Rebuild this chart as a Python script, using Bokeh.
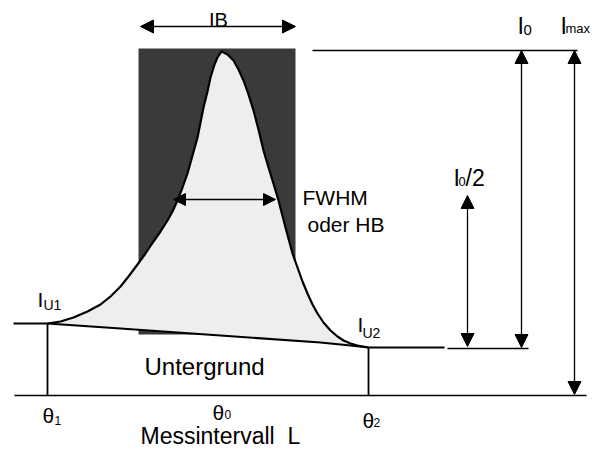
from bokeh.plotting import figure
from bokeh.models import Range1d, Arrow, NormalHead
from bokeh.core.properties import value
from bokeh.embed import file_html
from bokeh.resources import INLINE

# ---- data (x = diffraction angle, y = intensity, arbitrary units) ----
peak_theta = [47, 60, 73, 87, 100, 110, 120, 128, 137, 145, 153, 160, 167, 172, 177, 182, 187,
              192, 197, 200, 203, 207, 210, 214, 217, 221,
              227, 233, 238, 243, 248, 253, 258, 263, 268, 272, 278, 285, 292, 297, 302, 307,
              312, 317, 323, 330, 337, 343, 350, 357, 368]
peak_int = [72, 74, 78, 84, 91, 99, 109, 119, 131, 142, 154, 164, 175, 184, 195, 208, 222,
            240, 258, 273, 288, 304, 318, 331, 338, 344,
            341, 335, 326, 315, 301, 285, 266, 245, 228, 215, 195, 168, 142, 128, 114, 102,
            91, 82, 73, 65, 59, 55, 52, 50, 48]

bg_theta = [13, 47, 120, 220, 320, 350, 368, 444]
bg_int = [72, 72, 67, 60, 53, 50, 48, 48]

theta_1, theta_0, theta_2 = 47, 220, 368
ib_left, ib_right = 138, 295          # integral breadth rectangle
ib_bottom, ib_top = 61, 347
fwhm_left, fwhm_right, half_level = 173, 275, 196
i0_level = 345
bg_ref = 47
axis_left, axis_right = 14, 586

fig = figure(width=592, height=452, x_range=Range1d(0, 592), y_range=Range1d(-57, 395),
             output_backend="svg", toolbar_location=None, min_border=0)
fig.axis.visible = False
fig.grid.visible = False
fig.outline_line_color = None
fig.background_fill_color = "white"
fig.border_fill_color = "white"

# integral breadth rectangle (dark)
fig.quad(left=[ib_left], right=[ib_right], bottom=[ib_bottom], top=[ib_top],
         fill_color="#3a3a3a", line_color=None)

# peak area (light)
poly_x = peak_theta + bg_theta[::-1][2:-1]
poly_y = peak_int + bg_int[::-1][2:-1]
fig.patch(poly_x, poly_y, fill_color="#eeeeee", line_color=None)

# curves
fig.line(peak_theta, peak_int, line_color="black", line_width=2.2, line_join="round")
fig.line(bg_theta, bg_int, line_color="black", line_width=2.2, line_join="round")

# baseline and verticals
fig.line([axis_left, axis_right], [0, 0], line_color="black", line_width=1.6)
fig.line([theta_1, theta_1], [0, bg_int[1]], line_color="black", line_width=1.8)
fig.line([theta_2, theta_2], [0, bg_int[-2]], line_color="black", line_width=1.8)
fig.line([312, 577], [i0_level, i0_level], line_color="black", line_width=1.5)
fig.line([447, 528], [bg_ref, bg_ref], line_color="black", line_width=1.5)

def dbl_arrow(x0, y0, x1, y1, size=13, lw=1.3):
    fig.add_layout(Arrow(x_start=x0, y_start=y0, x_end=x1, y_end=y1,
                         start=NormalHead(size=size, fill_color="black", line_color="black"),
                         end=NormalHead(size=size, fill_color="black", line_color="black"),
                         line_color="black", line_width=lw))

dbl_arrow(140, 369, 295, 369)
dbl_arrow(fwhm_left, half_level, fwhm_right, half_level, size=12)
dbl_arrow(521, bg_ref + 1, 521, i0_level)
dbl_arrow(574, 1, 574, i0_level)
dbl_arrow(467, bg_ref + 2, 467, 200)

sans = value("Liberation Sans")
DY = 8  # baseline correction

def txt(xs, ys, texts, size, font=sans, align="left"):
    fig.text(x=xs, y=[v + DY for v in ys], text=texts, text_font=font, text_font_size=size,
             text_baseline="alphabetic", text_align=align, text_color="black")

txt([218], [368], ["IB"], "20px", align="center")
txt([517, 560, 453], [362, 362, 210], ["I", "I", "I"], "23px")
txt([523], [358], ["0"], "15px")
txt([565], [359], ["max"], "13px")
txt([458], [206], ["0"], "13px")
txt([465], [210], ["/2"], "23px")
txt([302, 307], [190, 163], ["FWHM", "oder HB"], "21px")
txt([37, 357], [88, 63], ["I", "I"], "21px")
txt([43, 362], [83, 55], ["U1", "U2"], "14px")
txt([144], [21], ["Untergrund"], "24px")
txt([140], [-48], ["Messintervall\u00a0\u00a0L"], "23px")
txt([42, 212, 362], [-28, -25, -33], ["\u03b8", "\u03b8", "\u03b8"], "21px")
txt([54, 224, 373], [-33, -27, -35], ["1", "0", "2"], "12px")

open("out.html", "w").write(file_html(fig, INLINE))
